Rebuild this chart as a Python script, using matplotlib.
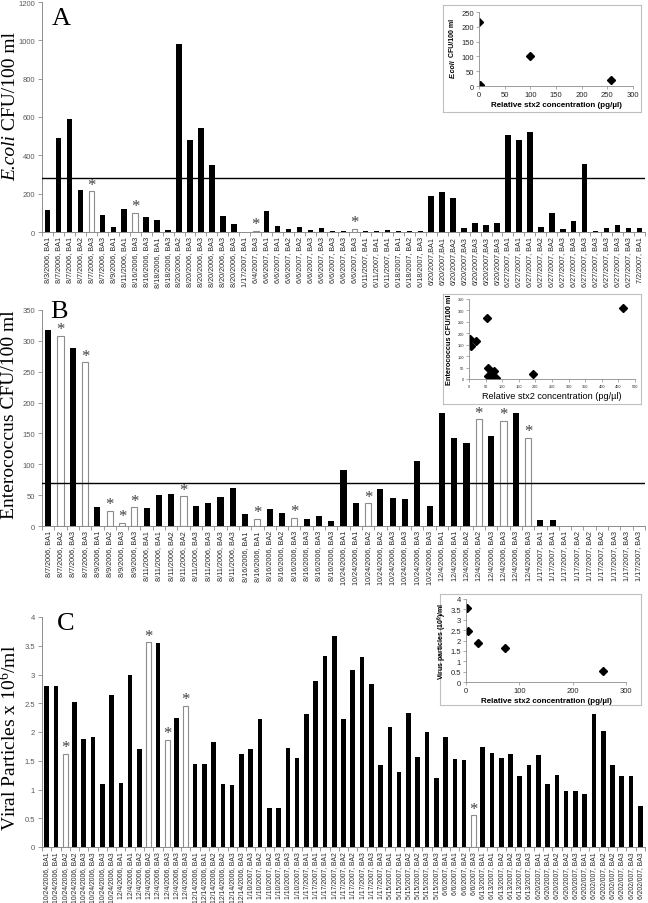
import numpy as np
import matplotlib
matplotlib.use("Agg")
import matplotlib.pyplot as plt

plt.rcParams["mathtext.fontset"] = "custom"
plt.rcParams["mathtext.rm"] = "Liberation Serif"
plt.rcParams["mathtext.it"] = "Liberation Serif:italic"
plt.rcParams["mathtext.sf"] = "Liberation Sans:bold"

# ---------------------------------------------------------------------------
# Data
# ---------------------------------------------------------------------------
ecoli_labels = (
    ["8/3/2006, BA1", "8/7/2006, BA1", "8/7/2006, BA1", "8/7/2006, BA2", "8/7/2006, BA3",
     "8/7/2006, BA3", "8/9/2006, BA1", "8/11/2006, BA1", "8/16/2006, BA3", "8/16/2006, BA3",
     "8/18/2006, BA1", "8/18/2006, BA3", "8/20/2006, BA2", "8/20/2006, BA3", "8/20/2006, BA3",
     "8/20/2006, BA3", "8/20/2006, BA3", "8/20/2006, BA3", "1/17/2007, BA1", "6/4/2007, BA3",
     "6/6/2007, BA1", "6/6/2007, BA1", "6/6/2007, BA2", "6/6/2007, BA2", "6/6/2007, BA3",
     "6/6/2007, BA3", "6/6/2007, BA3", "6/6/2007, BA3", "6/6/2007, BA3", "6/11/2007, BA1",
     "6/11/2007, BA1", "6/11/2007, BA1", "6/18/2007, BA1", "6/18/2007, BA2", "6/18/2007, BA3",
     "6/20/2007,BA1", "6/20/2007,BA1", "6/20/2007,BA2", "6/20/2007,BA3", "6/20/2007,BA3",
     "6/20/2007,BA3", "6/20/2007,BA3", "6/27/2007, BA1", "6/27/2007, BA1", "6/27/2007, BA1",
     "6/27/2007, BA2", "6/27/2007, BA2", "6/27/2007, BA3", "6/27/2007, BA3", "6/27/2007, BA3",
     "6/27/2007, BA3", "6/27/2007, BA3", "6/27/2007, BA3", "6/27/2007, BA3", "7/2/2007, BA1"]
)
ecoli_values = [115, 490, 590, 220, 213, 90, 28, 122, 100, 78, 62, 8, 980, 480, 545, 348,
                82, 42, 2, 5, 108, 32, 15, 25, 12, 22,
                5, 3, 18, 5, 3, 8, 3, 3, 3, 190, 210, 180, 20, 45, 35, 45,
                505, 480, 520, 25, 100, 15, 55, 355, 5, 20, 35, 20, 20]
ecoli_hollow = [4, 8, 19, 28]
ecoli_ref = 283

ent_labels = (
    ["8/7/2006, BA1", "8/7/2006, BA2", "8/7/2006, BA3", "8/7/2006, BA3", "8/9/2006, BA1",
     "8/9/2006, BA2", "8/9/2006, BA3", "8/9/2006, BA3", "8/11/2006, BA1", "8/11/2006, BA1",
     "8/11/2006, BA2", "8/11/2006, BA2", "8/11/2006, BA3", "8/11/2006, BA3", "8/11/2006, BA3",
     "8/11/2006, BA3", "8/16/2006, BA1", "8/16/2006, BA1", "8/16/2006, BA2", "8/16/2006, BA2",
     "8/16/2006, BA3", "8/16/2006, BA3", "8/16/2006, BA3", "8/16/2006, BA3",
     "10/24/2006, BA1", "10/24/2006, BA1", "10/24/2006, BA2", "10/24/2006, BA2",
     "10/24/2006, BA3", "10/24/2006, BA3", "10/24/2006, BA3", "10/24/2006, BA3",
     "12/4/2006, BA1", "12/4/2006, BA1", "12/4/2006, BA2", "12/4/2006, BA2",
     "12/4/2006, BA3", "12/4/2006, BA3", "12/4/2006, BA3", "12/4/2006, BA3",
     "1/17/2007, BA1", "1/17/2007, BA1", "1/17/2007, BA1", "1/17/2007, BA2", "1/17/2007, BA2",
     "1/17/2007, BA2", "1/17/2007, BA3", "1/17/2007, BA3", "1/17/2007, BA3"]
)
ent_values = [318, 308, 289, 265, 30, 25, 5, 30, 29, 50, 52, 48, 32, 38, 47, 62,
              19, 12, 28, 21, 13, 12, 16, 8,
              90, 38, 37, 60, 45, 43, 105, 33,
              183, 142, 135, 173, 146, 170, 183, 143,
              10, 10, 0, 0, 0, 0, 0, 0, 0]
ent_hollow = [1, 3, 5, 6, 7, 11, 17, 20, 26, 35, 37, 39]
ent_ref = 70

virus_labels = (
    ["10/24/2006, BA1", "10/24/2006, BA1", "10/24/2006, BA2", "10/24/2006, BA2",
     "10/24/2006, BA3", "10/24/2006, BA3", "10/24/2006, BA3", "10/24/2006, BA3",
     "12/4/2006, BA1", "12/4/2006, BA1", "12/4/2006, BA2", "12/4/2006, BA2",
     "12/4/2006, BA3", "12/4/2006, BA3", "12/4/2006, BA3", "12/4/2006, BA3",
     "12/14/2006, BA1", "12/14/2006, BA1", "12/14/2006, BA2", "12/14/2006, BA2",
     "12/14/2006, BA3", "12/14/2006, BA3",
     "1/10/2007, BA3", "1/10/2007, BA2", "1/10/2007, BA2", "1/10/2007, BA3",
     "1/10/2007, BA3", "1/10/2007, BA3",
     "1/17/2007, BA1", "1/17/2007, BA1", "1/17/2007, BA1", "1/17/2007, BA2", "1/17/2007, BA2",
     "1/17/2007, BA2", "1/17/2007, BA3", "1/17/2007, BA3", "1/17/2007, BA3",
     "5/15/2007, BA1", "5/15/2007, BA1", "5/15/2007, BA2", "5/15/2007, BA2",
     "5/15/2007, BA3", "5/15/2007, BA3",
     "6/6/2007, BA1", "6/6/2007, BA1", "6/6/2007, BA2", "6/6/2007, BA3",
     "6/13/2007, BA1", "6/13/2007, BA1", "6/13/2007, BA2", "6/13/2007, BA2",
     "6/13/2007, BA3", "6/13/2007, BA3",
     "6/20/2007, BA1", "6/20/2007, BA1", "6/20/2007, BA2", "6/20/2007, BA2",
     "6/20/2007, BA3", "6/202/007, BA1", "6/202/007, BA1", "6/202/007, BA2",
     "6/202/007, BA2", "6/202/007, BA3", "6/202/007, BA3", "6/202/007, BA3"]
)
virus_values = [2.8, 2.8, 1.62, 2.53, 1.87, 1.91, 1.1, 2.65, 1.11, 3.0, 1.71, 3.56, 3.55,
                1.86, 2.25, 2.46, 1.44, 1.44, 1.83, 1.1, 1.08, 1.62, 1.7, 2.22, 0.68, 0.68,
                1.73, 1.55, 2.32, 2.88,
                3.33, 3.67, 2.23, 3.07, 3.30, 2.83, 1.42, 2.08, 1.30, 2.33, 1.57, 2.0, 1.20,
                1.92, 1.53, 1.52, 0.55, 1.74, 1.64, 1.55, 1.62, 1.24, 1.42, 1.60, 1.10, 1.26,
                0.98, 0.98, 0.92, 2.32, 2.01, 1.43, 1.24, 1.24, 0.71]
virus_hollow = [2, 11, 13, 15, 46]

# inset scatter data (x = relative stx2 concentration)
ins_a_x = [0, 1, 100, 258]
ins_a_y = [215, 5, 100, 20]
ins_b_x = [3, 5, 21, 53, 56, 58, 63, 76, 80, 192, 465]
ins_b_y = [175, 144, 168, 267, 48, 12, 11, 35, 4, 23, 310]
ins_c_x = [1, 4, 23, 74, 256]
ins_c_y = [3.58, 2.48, 1.87, 1.63, 0.55]

# ---------------------------------------------------------------------------
# Styling
# ---------------------------------------------------------------------------
SANS = "Liberation Sans"
SERIF = "Liberation Serif"
AXIS_GREY = "#8c8c8c"
TICK_GREY = "#595959"

W, H = 648, 904


def fig_rect(x0, y0, x1, y1):
    """pixel box (top-left origin) -> figure fraction rect"""
    return [x0 / W, 1 - y1 / H, (x1 - x0) / W, (y1 - y0) / H]


def bar_panel(ax, labels, values, hollow, ymax, ystep, ref, tickfmt, labfs=5.2):
    n = len(values)
    x = np.arange(n)
    vals = np.array(values, dtype=float)
    hol = np.zeros(n, dtype=bool)
    hol[hollow] = True
    ax.bar(x[~hol], vals[~hol], width=0.5, color="black", zorder=2)
    ax.bar(x[hol], vals[hol], width=0.5, facecolor="white",
           edgecolor="#8c8c8c", linewidth=0.8, zorder=2)
    for xi in x[hol]:
        ax.annotate("*", (xi, vals[xi]), xytext=(0, -1), textcoords="offset points",
                    ha="center", va="bottom", fontsize=12, family=SERIF, color="#404040")
    if ref is not None:
        ax.axhline(ref, color="black", linewidth=1.0, zorder=3)

    ax.set_xlim(-0.5, n - 0.5)
    ax.set_ylim(0, ymax)
    yt = np.arange(0, ymax + ystep / 2, ystep)
    ax.set_yticks(yt)
    ax.set_yticklabels([tickfmt(v) for v in yt], fontsize=5.5, color=TICK_GREY, family=SANS)
    ax.set_xticks(x)
    ax.set_xticklabels(labels, rotation=90, fontsize=labfs, family=SANS, color="#262626")
    ax.set_xticks(np.arange(n + 1) - 0.5, minor=True)
    ax.tick_params(axis="x", which="major", length=0, pad=3)
    ax.tick_params(axis="x", which="minor", length=3, color=AXIS_GREY, width=0.6)
    ax.tick_params(axis="y", length=3, color=AXIS_GREY, width=0.6, pad=2)
    for s in ["top", "right"]:
        ax.spines[s].set_visible(False)
    for s in ["left", "bottom"]:
        ax.spines[s].set_color(AXIS_GREY)
        ax.spines[s].set_linewidth(0.7)
    ax.patch.set_alpha(0)


def inset(fig, box, area, xs, ys, xmax, xstep, ymax, ystep, xlabel,
          tickfs, xlabfs, xlabbold, yfmt):
    bx = fig.add_axes(fig_rect(*box), zorder=3)
    bx.set_xticks([])
    bx.set_yticks([])
    for s in bx.spines.values():
        s.set_color("#bfbfbf")
        s.set_linewidth(0.8)
    ia = fig.add_axes(fig_rect(*area), zorder=4)
    ia.patch.set_alpha(0)
    ia.plot(xs, ys, linestyle="none", marker="D", markersize=3.6, color="black")
    ia.set_xlim(0, xmax)
    ia.set_ylim(0, ymax)
    ia.set_xticks(np.arange(0, xmax + xstep / 2, xstep))
    yt = np.arange(0, ymax + ystep / 2, ystep)
    ia.set_yticks(yt)
    ia.set_yticklabels([yfmt(v) for v in yt])
    ia.tick_params(labelsize=tickfs, length=2, width=0.5, color=AXIS_GREY, pad=1.5,
                   labelcolor="#262626")
    for lab in ia.get_xticklabels() + ia.get_yticklabels():
        lab.set_family(SANS)
    for s in ["top", "right"]:
        ia.spines[s].set_visible(False)
    for s in ["left", "bottom"]:
        ia.spines[s].set_color(AXIS_GREY)
        ia.spines[s].set_linewidth(0.6)
    ia.set_xlabel(xlabel, fontsize=xlabfs, family=SANS,
                  fontweight="bold" if xlabbold else "normal", labelpad=2)
    return ia


def fmt_int(v):
    return f"{int(round(v))}"


def fmt_half(v):
    return f"{v:g}"


# ---------------------------------------------------------------------------
# Plot
# ---------------------------------------------------------------------------
fig = plt.figure(figsize=(W / 100, H / 100), dpi=100)

axA = fig.add_axes(fig_rect(42, 3, 645, 233))
bar_panel(axA, ecoli_labels, ecoli_values, ecoli_hollow, 1200, 200, ecoli_ref, fmt_int)
axB = fig.add_axes(fig_rect(42, 311, 645, 527))
bar_panel(axB, ent_labels, ent_values, ent_hollow, 350, 50, ent_ref, fmt_int)
axC = fig.add_axes(fig_rect(42, 618, 645, 848))
bar_panel(axC, virus_labels, virus_values, virus_hollow, 4, 0.5, None, fmt_half, labfs=4.9)

# y axis titles (Times-like serif); E.coli title chained: italic name then units
t0 = axA.annotate("E.coli", xy=(11 / W, 1 - 181 / H), xycoords="figure fraction",
                  rotation=90, ha="center", va="bottom", fontsize=14, family=SERIF,
                  fontstyle="italic", annotation_clip=False)
axA.annotate(" CFU/100 ml", xy=(0.5, 1.0), xycoords=t0, rotation=90, ha="center",
             va="bottom", fontsize=14, family=SERIF, annotation_clip=False)
fig.text(10 / W, 1 - 415 / H, "Enterococcus CFU/100 ml", rotation=90, ha="center",
         va="center", fontsize=14, family=SERIF)
fig.text(10 / W, 1 - 738 / H, r"Viral Particles x 10$^{6}$/ml", rotation=90, ha="center",
         va="center", fontsize=14, family=SERIF)

# panel letters
for letter, (px, py) in zip("ABC", [(52, 25), (50, 318), (57, 630)]):
    fig.text(px / W, 1 - py / H, letter, fontsize=19, family=SERIF, va="baseline")

# insets
ia = inset(fig, (443, 6, 641, 113), (479, 13, 633, 87), ins_a_x, ins_a_y, 300, 50, 250, 50,
           "Relative stx2 concentration (pg/µl)", 5.5, 5.8, True, fmt_int)
# inset A y title: italic species name + plain units, chained bottom to top
t1 = ia.annotate("E.coli", xy=(453 / W, 1 - 78 / H), xycoords="figure fraction",
                 rotation=90, ha="center", va="bottom", fontsize=5, family=SANS,
                 fontweight="bold", fontstyle="italic", annotation_clip=False)
ia.annotate(" CFU/100 ml", xy=(0.5, 1.0), xycoords=t1, rotation=90, ha="center",
            va="bottom", fontsize=5, family=SANS, fontweight="bold", annotation_clip=False)

ib = inset(fig, (443, 295, 641, 405), (469, 300, 635, 380), ins_b_x, ins_b_y, 500, 50, 350, 50,
           "Relative stx2 concentration (pg/µl)", 2.8, 6.6, False, fmt_int)
ib.set_ylabel("Enterococcus CFU/100 ml", fontsize=5.3, family=SANS, fontweight="bold",
              labelpad=3)

ic = inset(fig, (440, 595, 641, 706), (466, 600, 626, 683), ins_c_x, ins_c_y, 300, 100, 4, 0.5,
           "Relative stx2 concentration (pg/µl)", 5.5, 5.8, True, fmt_half)
ic.set_ylabel(r"Virus particles (10$^{\mathsf{6}}$)/ml", fontsize=5.0, family=SANS,
              fontweight="bold", labelpad=2)

fig.savefig("out.png", dpi=100)
